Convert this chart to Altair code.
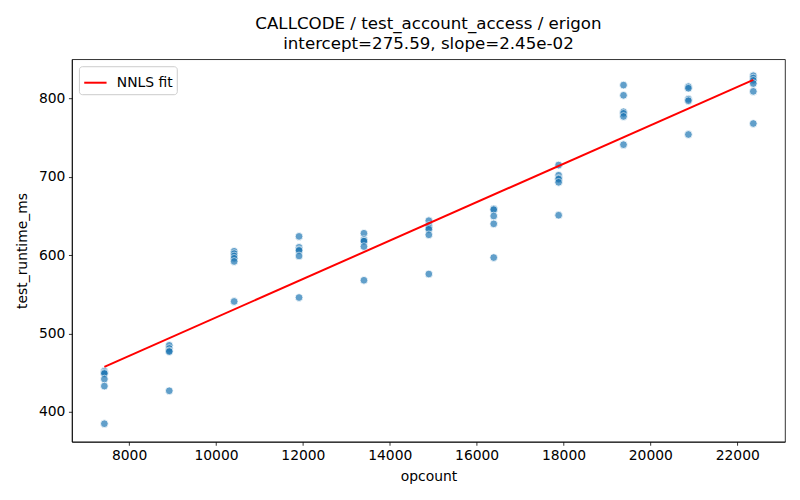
import altair as alt
import pandas as pd

# opcount levels (x columns) and the runtimes measured at each
opcount_levels = [7430, 8924, 10418, 11912, 13406, 14900, 16394, 17888, 19382, 20876, 22370]
runtime_7430 = [452, 450, 449, 442, 433, 385]
runtime_8924 = [485, 481, 478, 477, 427]
runtime_10418 = [605, 602, 599, 596, 592, 541]
runtime_11912 = [624, 610, 607, 606, 599, 546]
runtime_13406 = [628, 620, 618, 618, 611, 568]
runtime_14900 = [644, 638, 635, 633, 626, 576]
runtime_16394 = [659, 658, 650, 640, 597]
runtime_17888 = [715, 702, 698, 697, 693, 651]
runtime_19382 = [817, 804, 783, 781, 777, 741]
runtime_20876 = [815, 813, 799, 797, 754]
runtime_22370 = [829, 826, 823, 819, 809, 768]

intercept = 275.59
slope = 2.45e-02

runtimes = [
    runtime_7430, runtime_8924, runtime_10418, runtime_11912, runtime_13406, runtime_14900,
    runtime_16394, runtime_17888, runtime_19382, runtime_20876, runtime_22370,
]
points = pd.DataFrame(
    [(x, y) for x, ys in zip(opcount_levels, runtimes) for y in ys],
    columns=["opcount", "test_runtime_ms"],
)

x_fit = [min(opcount_levels), max(opcount_levels)]
fit = pd.DataFrame({
    "opcount": x_fit,
    "test_runtime_ms": [intercept + slope * x for x in x_fit],
    "label": "NNLS fit",
})

font = "DejaVu Sans"
x_scale = alt.Scale(domain=[6683, 23100], nice=False, zero=False)
y_scale = alt.Scale(domain=[362, 850], nice=False, zero=False)
x_axis = alt.Axis(values=list(range(8000, 22001, 2000)), format="d", grid=False, titlePadding=7)
y_axis = alt.Axis(values=list(range(400, 801, 100)), format="d", grid=False, titlePadding=9)

scatter = alt.Chart(points).mark_circle(
    size=60, color="#1f77b4", opacity=0.7, stroke="white", strokeWidth=0.8
).encode(
    x=alt.X("opcount:Q", scale=x_scale, axis=x_axis, title="opcount"),
    y=alt.Y("test_runtime_ms:Q", scale=y_scale, axis=y_axis, title="test_runtime_ms"),
)

line = alt.Chart(fit).mark_line(strokeWidth=2).encode(
    x=alt.X("opcount:Q", scale=x_scale),
    y=alt.Y("test_runtime_ms:Q", scale=y_scale),
    color=alt.Color(
        "label:N",
        scale=alt.Scale(domain=["NNLS fit"], range=["red"]),
        legend=alt.Legend(
            title=None, orient="top-left", symbolType="stroke", symbolSize=500,
            symbolStrokeWidth=2, labelFont=font, labelFontSize=13.9, labelColor="black",
            fillColor="white", strokeColor="#cccccc", padding=4, cornerRadius=3,
            offset=7, labelOffset=9,
        ),
    ),
)

chart = (
    alt.layer(scatter, line)
    .properties(
        width=714,
        height=383,
        padding={"left": 7, "top": 7, "right": 7, "bottom": 5},
        title=alt.TitleParams(
            ["CALLCODE / test_account_access / erigon", "intercept=275.59, slope=2.45e-02"],
            font=font, fontSize=16.7, fontWeight="normal", color="black", offset=7, lineHeight=20,
        ),
    )
    .configure_view(stroke="black", strokeWidth=0.8)
    .configure_axis(
        labelFont=font, labelFontSize=13.9, labelColor="black", titleFont=font,
        titleFontSize=13.9, titleFontWeight="normal", titleColor="black",
        domainColor="black", tickColor="black", tickSize=3.5, labelPadding=3.5,
        domainWidth=0.8, tickWidth=0.8,
    )
)

chart.save("out.html", embed_options={"renderer": "svg", "actions": False})
